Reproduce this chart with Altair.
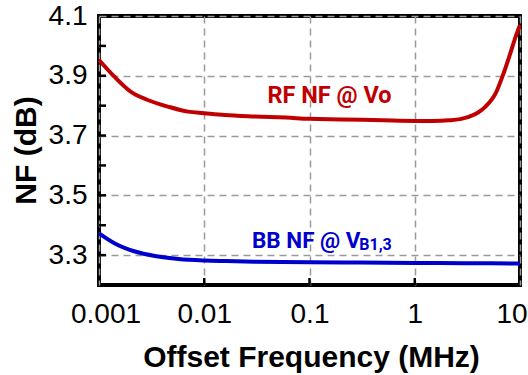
import altair as alt
import pandas as pd

# ---- data ----
rf_freq = [0.001, 0.0014, 0.002, 0.0029, 0.0045, 0.007, 0.01, 0.0156, 0.03, 0.06, 0.1, 0.2,
           0.5, 1, 1.5, 2.1, 2.7, 3.3, 4.0, 4.7, 5.4, 5.9, 6.8, 7.9, 9.1, 10]
rf_nf = [3.953, 3.897, 3.847, 3.819, 3.797, 3.780, 3.775, 3.769, 3.764, 3.760, 3.756, 3.754,
         3.751, 3.749, 3.749, 3.751, 3.755, 3.763, 3.777, 3.797, 3.821, 3.843, 3.897, 3.964, 4.031, 4.07]

bb_freq = [0.001, 0.0014, 0.0022, 0.0034, 0.0057, 0.01, 0.016, 0.03, 0.1, 0.3, 1, 3, 10]
bb_nf = [3.373, 3.340, 3.312, 3.297, 3.287, 3.282, 3.280, 3.278, 3.276, 3.275, 3.274, 3.273, 3.272]

x_ticks = [0.001, 0.01, 0.1, 1, 10]
y_ticks = [3.3, 3.5, 3.7, 3.9, 4.1]
y_small_ticks = [3.3, 3.4, 3.5, 3.6, 3.7, 3.8, 3.9, 4.0]
x_small_ticks = [0.01, 0.1, 1]

series_names = ["RF", "BB"]
series_colors = ["#C00000", "#0000CC"]

# annotation labels (data coordinates)
ann_text = ["RF NF @ Vo", "BB NF @ V"]
ann_x = [0.155, 0.0284]
ann_y = [3.809, 3.324]
ann_series = ["RF", "BB"]
sub_text = ["B1,3"]
sub_x = [0.297]
sub_y = [3.316]

W, H = 421, 269
SANS = "Liberation Sans"

df = pd.concat([
    pd.DataFrame({"f": rf_freq, "nf": rf_nf, "s": "RF"}),
    pd.DataFrame({"f": bb_freq, "nf": bb_nf, "s": "BB"}),
])

xs = alt.Scale(type="log", domain=[0.001, 10], nice=False)
ys = alt.Scale(domain=[3.2, 4.1], nice=False, zero=False)
cs = alt.Scale(domain=series_names, range=series_colors)

grid_kw = dict(grid=True, gridColor="#9a9a9a", gridDash=[7, 5], gridWidth=1.5,
               ticks=False, domain=False, labelColor="black")

x_axis = alt.Axis(values=x_ticks, format="~g", labelFont=SANS,
                  labelFontSize=28, labelPadding=15, labelFlush=False,
                  labelOffset=alt.ExprRef("datum.value < 0.002 ? 6.5 : (datum.value > 5 ? -8.5 : 0)"),
                  title="Offset Frequency (MHz)", titleFont=SANS,
                  titleFontWeight="bold", titleFontSize=30, titleColor="black",
                  titleX=212, titleY=81, titleBaseline="alphabetic", titleAlign="center",
                  **grid_kw)
y_axis = alt.Axis(values=y_ticks, format=".1f", labelFont=SANS,
                  labelFontSize=28, labelPadding=12,
                  title="NF (dB)", titleFont=SANS, titleFontWeight="bold",
                  titleFontSize=30, titleColor="black", titleAngle=270, titleX=-64, titleY=134,
                  titleBaseline="alphabetic", titleAlign="center",
                  **grid_kw)


def X(field):
    return alt.X(field, type="quantitative", scale=xs, axis=x_axis)


def Y(field):
    return alt.Y(field, type="quantitative", scale=ys, axis=y_axis)


lines = alt.Chart(df).mark_line(strokeWidth=4, interpolate="monotone").encode(
    x=X("f"), y=Y("nf"),
    color=alt.Color("s:N", scale=cs, legend=None),
    detail="s:N",
)

yt = alt.Chart(pd.DataFrame({"nf": y_small_ticks})).mark_rule(color="black", strokeWidth=2.5).encode(
    y=Y("nf"), x=alt.value(0), x2=alt.value(7))
xt = alt.Chart(pd.DataFrame({"f": x_small_ticks})).mark_rule(color="black", strokeWidth=2.5).encode(
    x=X("f"), y=alt.value(H), y2=alt.value(H - 7))

ann_df = pd.DataFrame({"t": ann_text, "f": ann_x, "nf": ann_y, "s": ann_series})
rf_lab = alt.Chart(ann_df.iloc[[0]]).mark_text(font="Roboto", fontWeight="bold", fontSize=23.5,
                                                align="center", baseline="alphabetic").encode(
    x=X("f"), y=Y("nf"), text="t:N",
    color=alt.Color("s:N", scale=cs, legend=None))
bb_lab = alt.Chart(ann_df.iloc[[1]]).mark_text(font="Roboto", fontWeight="bold", fontSize=22.5,
                                                align="left", baseline="alphabetic").encode(
    x=X("f"), y=Y("nf"), text="t:N",
    color=alt.Color("s:N", scale=cs, legend=None))
sub_df = pd.DataFrame({"t": sub_text, "f": sub_x, "nf": sub_y, "s": ["BB"]})
sub_lab = alt.Chart(sub_df).mark_text(font="Roboto", fontWeight="bold", fontSize=16,
                                      align="left", baseline="alphabetic").encode(
    x=X("f"), y=Y("nf"), text="t:N",
    color=alt.Color("s:N", scale=cs, legend=None))

chart = alt.layer(lines, yt, xt, rf_lab, bb_lab, sub_lab).properties(
    width=W, height=H,
    autosize=alt.AutoSizeParams(type="none"),
    padding={"left": 99, "top": 16, "right": 8, "bottom": 90},
    background="white",
).configure_view(stroke="black", strokeWidth=4)

chart.save("out.html", embed_options={"renderer": "svg", "actions": False})
